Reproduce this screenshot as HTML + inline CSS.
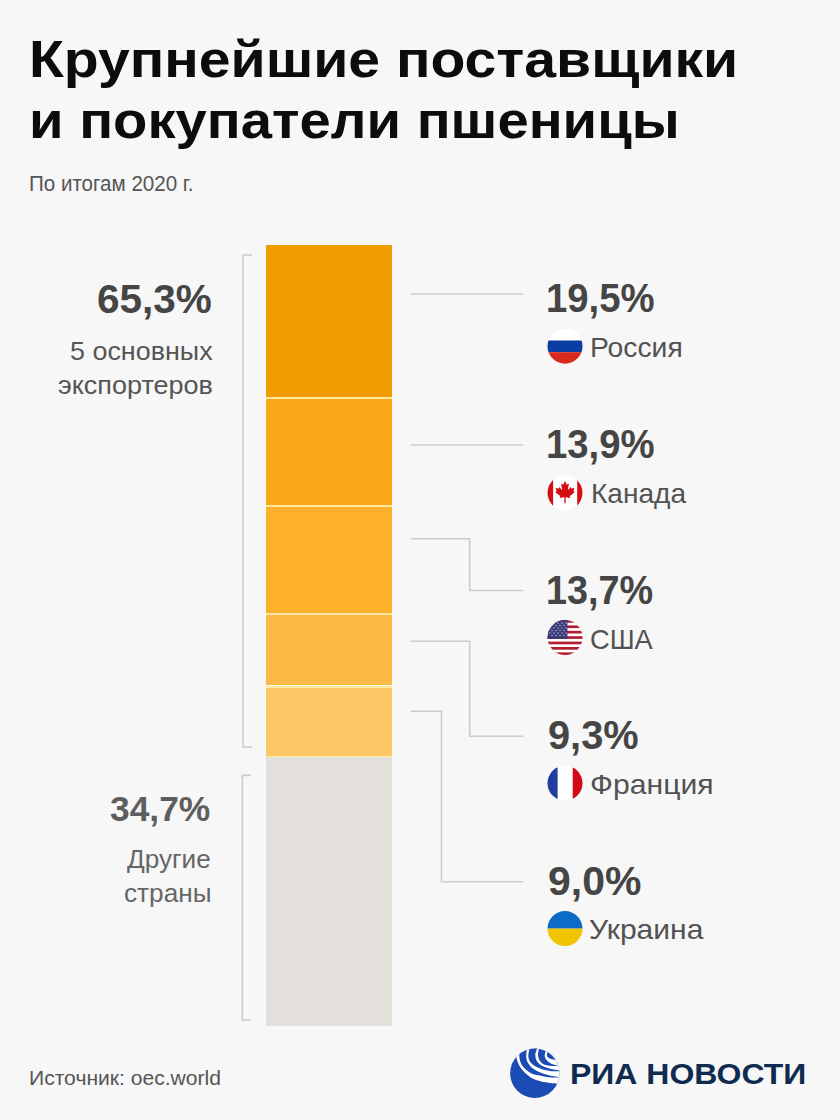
<!DOCTYPE html>
<html><head><meta charset="utf-8">
<style>
html,body{margin:0;padding:0;}
body{width:840px;height:1120px;background:#f7f7f7;position:relative;overflow:hidden;font-family:"Liberation Sans",sans-serif;}
.t{position:absolute;white-space:nowrap;transform-origin:0 0;}
.s{position:absolute;left:266px;width:126px;}
.sep{position:absolute;left:266px;width:126px;height:2px;background:#ffe9a2;}
svg{position:absolute;left:0;top:0;}
</style></head><body>
<div class="s" style="top:245px;height:152.3px;background:#f09b00"></div>
<div class="s" style="top:397.3px;height:108.6px;background:#faa818"></div>
<div class="s" style="top:505.9px;height:107px;background:#fdb02a"></div>
<div class="s" style="top:612.9px;height:72.6px;background:#feba46"></div>
<div class="s" style="top:685.5px;height:70.3px;background:#fec766"></div>
<div class="s" style="top:755.8px;height:270.2px;background:#e3dfda"></div>
<div class="sep" style="top:397.4px"></div>
<div class="sep" style="top:505.4px"></div>
<div class="sep" style="top:613px"></div>
<div class="sep" style="top:686px"></div>
<div class="sep" style="top:755.8px;height:1.4px"></div>
<svg width="840" height="1120" viewBox="0 0 840 1120">
 <g fill="none" stroke="#cccccc" stroke-width="1.6">
  <path d="M252 255H243V747H252"/>
  <path d="M251 775.4H242.3V1020H251"/>
  <path d="M411 294H523.3"/>
  <path d="M411 445H523.3"/>
  <path d="M411 538.8H469.7V590.5H523.3"/>
  <path d="M411 641.2H469.7V736.2H523.3"/>
  <path d="M411 711.2H441.5V881.7H523.3"/>
 </g>
 <defs>
  <clipPath id="c1"><circle cx="565" cy="346.2" r="17.5"/></clipPath>
  <clipPath id="c2"><circle cx="565" cy="492.8" r="17.5"/></clipPath>
  <clipPath id="c3"><circle cx="565" cy="637.5" r="17.5"/></clipPath>
  <clipPath id="c4"><circle cx="565" cy="783.2" r="17.5"/></clipPath>
  <clipPath id="c5"><circle cx="565" cy="928.6" r="17.5"/></clipPath>
  <clipPath id="cl"><circle cx="534.8" cy="1073.3" r="24.7"/></clipPath>
 </defs>
 <!-- Russia -->
 <g clip-path="url(#c1)">
  <rect x="547" y="328" width="36" height="12.5" fill="#ffffff"/>
  <rect x="547" y="340.5" width="36" height="11.7" fill="#0b3ea2"/>
  <rect x="547" y="352.2" width="36" height="12" fill="#d8291e"/>
 </g>
 <!-- Canada -->
 <g clip-path="url(#c2)">
  <rect x="547" y="475" width="36" height="36" fill="#ffffff"/>
  <rect x="547" y="475" width="6.1" height="36" fill="#d50e14"/>
  <rect x="577.2" y="475" width="6" height="36" fill="#d50e14"/>
  <rect x="564.5" y="497" width="1" height="6.5" fill="#d50e14"/>
  <path fill="#d50e14" transform="translate(565 491.6) scale(0.0053)" d="m-90 2030 45-863a95 95 0 0 0-111-98l-859 151 116-320a65 65 0 0 0-20-73l-941-762 212-99a65 65 0 0 0 34-79l-186-572 542 115a65 65 0 0 0 73-38l105-247 423 454a65 65 0 0 0 111-57l-204-1052 327 189a65 65 0 0 0 91-27l332-652 332 652a65 65 0 0 0 91 27l327-189-204 1052a65 65 0 0 0 111 57l423-454 105 247a65 65 0 0 0 73 38l542-115-186 572a65 65 0 0 0 34 79l212 99-941 762a65 65 0 0 0-20 73l116 320-859-151a95 95 0 0 0-111 98l45 863z"/>
 </g>
 <!-- USA -->
 <g clip-path="url(#c3)">
  <rect x="547" y="620" width="36" height="36" fill="#ffffff"/>
  <g fill="#b31c31">
   <rect x="547" y="620" width="36" height="2.7"/>
   <rect x="547" y="625.4" width="36" height="2.7"/>
   <rect x="547" y="630.8" width="36" height="2.7"/>
   <rect x="547" y="636.2" width="36" height="2.7"/>
   <rect x="547" y="641.6" width="36" height="2.7"/>
   <rect x="547" y="647" width="36" height="2.7"/>
   <rect x="547" y="652.4" width="36" height="2.9"/>
  </g>
  <rect x="547" y="620" width="20.4" height="18.9" fill="#3a3a78"/>
  <g fill="#c9c9e0">
   <circle cx="550" cy="623" r=".7"/><circle cx="554" cy="623" r=".7"/><circle cx="558" cy="623" r=".7"/><circle cx="562" cy="623" r=".7"/><circle cx="566" cy="623" r=".7"/>
   <circle cx="552" cy="625.5" r=".7"/><circle cx="556" cy="625.5" r=".7"/><circle cx="560" cy="625.5" r=".7"/><circle cx="564" cy="625.5" r=".7"/>
   <circle cx="550" cy="628" r=".7"/><circle cx="554" cy="628" r=".7"/><circle cx="558" cy="628" r=".7"/><circle cx="562" cy="628" r=".7"/><circle cx="566" cy="628" r=".7"/>
   <circle cx="552" cy="630.5" r=".7"/><circle cx="556" cy="630.5" r=".7"/><circle cx="560" cy="630.5" r=".7"/><circle cx="564" cy="630.5" r=".7"/>
   <circle cx="550" cy="633" r=".7"/><circle cx="554" cy="633" r=".7"/><circle cx="558" cy="633" r=".7"/><circle cx="562" cy="633" r=".7"/><circle cx="566" cy="633" r=".7"/>
   <circle cx="552" cy="635.5" r=".7"/><circle cx="556" cy="635.5" r=".7"/><circle cx="560" cy="635.5" r=".7"/><circle cx="564" cy="635.5" r=".7"/>
  </g>
 </g>
 <!-- France -->
 <g clip-path="url(#c4)">
  <rect x="547" y="765" width="36" height="36" fill="#ffffff"/>
  <rect x="547" y="765" width="10.6" height="36" fill="#1f3d9c"/>
  <rect x="572.7" y="765" width="11" height="36" fill="#d20a16"/>
 </g>
 <!-- Ukraine -->
 <g clip-path="url(#c5)">
  <rect x="547" y="910" width="36" height="18.6" fill="#0b6bc6"/>
  <rect x="547" y="928.6" width="36" height="18.6" fill="#f0c400"/>
 </g>
 <!-- RIA logo -->
 <g clip-path="url(#cl)">
  <rect x="505" y="1045" width="60" height="60" fill="#1b4cb6"/>
  <path fill="#ffffff" d="M515.30,1052.00C515.47,1052.83 515.90,1055.33 516.30,1057.00C516.70,1058.67 517.08,1060.38 517.70,1062.00C518.32,1063.62 519.17,1065.32 520.00,1066.70C520.83,1068.08 521.77,1069.20 522.70,1070.30C523.63,1071.40 524.05,1071.97 525.60,1073.30C527.15,1074.63 529.82,1077.07 532.00,1078.30C534.18,1079.53 536.48,1080.03 538.70,1080.70C540.92,1081.37 543.08,1081.87 545.30,1082.30C547.52,1082.73 550.05,1083.07 552.00,1083.30C553.95,1083.53 555.17,1083.58 557.00,1083.70C558.83,1083.82 562.00,1083.95 563.00,1084.00L563,1040L505,1040Z"/>
  <path fill="#1b4cb6" d="M518.90,1050.00C518.97,1050.67 519.17,1052.45 519.30,1054.00C519.43,1055.55 519.37,1057.63 519.70,1059.30C520.03,1060.97 520.58,1062.60 521.30,1064.00C522.02,1065.40 523.00,1066.58 524.00,1067.70C525.00,1068.82 525.97,1069.70 527.30,1070.70C528.63,1071.70 530.10,1072.93 532.00,1073.70C533.90,1074.47 536.48,1074.80 538.70,1075.30C540.92,1075.80 543.08,1076.35 545.30,1076.70C547.52,1077.05 549.77,1077.27 552.00,1077.40C554.23,1077.53 556.87,1077.50 558.70,1077.50C560.53,1077.50 562.28,1077.42 563.00,1077.40L563.00,1077.30C562.28,1077.25 560.53,1077.22 558.70,1077.00C556.87,1076.78 554.23,1076.45 552.00,1076.00C549.77,1075.55 547.52,1075.00 545.30,1074.30C543.08,1073.60 540.87,1072.85 538.70,1071.80C536.53,1070.75 533.87,1069.18 532.30,1068.00C530.73,1066.82 530.18,1065.87 529.30,1064.70C528.42,1063.53 527.52,1062.45 527.00,1061.00C526.48,1059.55 526.25,1057.78 526.20,1056.00C526.15,1054.22 526.60,1051.97 526.70,1050.30C526.80,1048.63 526.78,1046.72 526.80,1046.00Z"/>
  <path fill="#1b4cb6" d="M529.60,1046.00C529.55,1046.55 529.52,1047.63 529.30,1049.30C529.08,1050.97 528.23,1054.05 528.30,1056.00C528.37,1057.95 529.05,1059.67 529.70,1061.00C530.35,1062.33 531.12,1063.03 532.20,1064.00C533.28,1064.97 534.57,1065.92 536.20,1066.80C537.83,1067.68 539.92,1068.65 542.00,1069.30C544.08,1069.95 547.03,1070.38 548.70,1070.70C550.37,1071.02 550.33,1071.10 552.00,1071.20C553.67,1071.30 556.87,1071.28 558.70,1071.30C560.53,1071.32 562.28,1071.30 563.00,1071.30L563.00,1070.60C562.28,1070.55 560.53,1070.52 558.70,1070.30C556.87,1070.08 554.23,1069.80 552.00,1069.30C549.77,1068.80 547.35,1068.13 545.30,1067.30C543.25,1066.47 541.20,1065.52 539.70,1064.30C538.20,1063.08 537.03,1061.67 536.30,1060.00C535.57,1058.33 535.18,1056.18 535.30,1054.30C535.42,1052.42 536.67,1050.25 537.00,1048.70C537.33,1047.15 537.25,1045.62 537.30,1045.00Z"/>
  <path fill="#1b4cb6" d="M539.00,1046.00C538.95,1046.62 538.87,1048.20 538.70,1049.70C538.53,1051.20 537.90,1053.28 538.00,1055.00C538.10,1056.72 538.52,1058.55 539.30,1060.00C540.08,1061.45 541.42,1062.82 542.70,1063.70C543.98,1064.58 545.45,1064.92 547.00,1065.30C548.55,1065.68 550.17,1065.92 552.00,1066.00C553.83,1066.08 556.17,1065.87 558.00,1065.80C559.83,1065.73 562.17,1065.63 563.00,1065.60L563.00,1065.50C562.17,1065.48 559.28,1065.48 558.00,1065.40C556.72,1065.32 556.42,1065.28 555.30,1065.00C554.18,1064.72 552.57,1064.32 551.30,1063.70C550.03,1063.08 548.70,1062.20 547.70,1061.30C546.70,1060.40 545.80,1059.40 545.30,1058.30C544.80,1057.20 544.63,1055.92 544.70,1054.70C544.77,1053.48 545.45,1052.28 545.70,1051.00C545.95,1049.72 546.12,1047.67 546.20,1047.00Z"/>
  <path fill="#1b4cb6" d="M547.80,1049.00C547.72,1049.67 547.43,1051.83 547.30,1053.00C547.17,1054.17 546.67,1055.12 547.00,1056.00C547.33,1056.88 548.47,1057.75 549.30,1058.30C550.13,1058.85 551.00,1059.07 552.00,1059.30C553.00,1059.53 553.97,1059.67 555.30,1059.70C556.63,1059.73 559.22,1059.53 560.00,1059.50L562,1046L547.8,1046Z"/>
 </g>
</svg>
<div class="t" style="left:28.67px;top:34.00px;font-size:51.5px;line-height:51.5px;font-weight:700;color:#0c0c0c;transform:scaleX(1.1090)">Крупнейшие поставщики</div>
<div class="t" style="left:28.73px;top:94.50px;font-size:51.5px;line-height:51.5px;font-weight:700;color:#0c0c0c;transform:scaleX(1.0912)">и покупатели пшеницы</div>
<div class="t" style="left:28.54px;top:173.50px;font-size:21.4px;line-height:21.4px;font-weight:400;color:#555555;transform:scaleX(0.9615)">По итогам 2020 г.</div>
<div class="t" style="left:97.29px;top:278.50px;font-size:40px;line-height:40px;font-weight:700;color:#454545;transform:scaleX(1.0125)">65,3%</div>
<div class="t" style="left:69.95px;top:338.50px;font-size:25.7px;line-height:25.7px;font-weight:400;color:#555555;transform:scaleX(1.0474)">5 основных</div>
<div class="t" style="left:58.00px;top:372.80px;font-size:25.7px;line-height:25.7px;font-weight:400;color:#555555;transform:scaleX(1.0503)">экспортеров</div>
<div class="t" style="left:109.70px;top:791.50px;font-size:34.8px;line-height:34.8px;font-weight:700;color:#5e5e5e;transform:scaleX(1.0162)">34,7%</div>
<div class="t" style="left:127.32px;top:847.30px;font-size:25.7px;line-height:25.7px;font-weight:400;color:#666666;transform:scaleX(1.0181)">Другие</div>
<div class="t" style="left:124.20px;top:880.70px;font-size:25.7px;line-height:25.7px;font-weight:400;color:#666666;transform:scaleX(1.0188)">страны</div>
<div class="t" style="left:28.95px;top:1067.90px;font-size:20.1px;line-height:20.1px;font-weight:400;color:#555555;transform:scaleX(1.0495)">Источник: oec.world</div>
<div class="t" style="left:545.68px;top:277.80px;font-size:40px;line-height:40px;font-weight:700;color:#454545;transform:scaleX(0.9577)">19,5%</div>
<div class="t" style="left:590.00px;top:333.20px;font-size:28.3px;line-height:28.3px;font-weight:400;color:#525252;transform:scaleX(0.9989)">Россия</div>
<div class="t" style="left:545.68px;top:423.50px;font-size:40px;line-height:40px;font-weight:700;color:#454545;transform:scaleX(0.9577)">13,9%</div>
<div class="t" style="left:590.71px;top:478.90px;font-size:28.3px;line-height:28.3px;font-weight:400;color:#525252;transform:scaleX(0.9926)">Канада</div>
<div class="t" style="left:545.71px;top:569.50px;font-size:40px;line-height:40px;font-weight:700;color:#454545;transform:scaleX(0.9450)">13,7%</div>
<div class="t" style="left:590.04px;top:624.50px;font-size:28.3px;line-height:28.3px;font-weight:400;color:#525252;transform:scaleX(0.9609)">США</div>
<div class="t" style="left:547.61px;top:714.90px;font-size:40px;line-height:40px;font-weight:700;color:#454545;transform:scaleX(0.9944)">9,3%</div>
<div class="t" style="left:589.93px;top:770.10px;font-size:28.3px;line-height:28.3px;font-weight:400;color:#525252;transform:scaleX(1.0658)">Франция</div>
<div class="t" style="left:547.58px;top:860.60px;font-size:40px;line-height:40px;font-weight:700;color:#454545;transform:scaleX(1.0233)">9,0%</div>
<div class="t" style="left:589.34px;top:914.50px;font-size:28.3px;line-height:28.3px;font-weight:400;color:#525252;transform:scaleX(1.0617)">Украина</div>
<div class="t" style="left:569.70px;top:1059.70px;font-size:29px;line-height:29px;font-weight:700;color:#0f2b50;transform:scaleX(1.1028)">РИА НОВОСТИ</div>
</body></html>
